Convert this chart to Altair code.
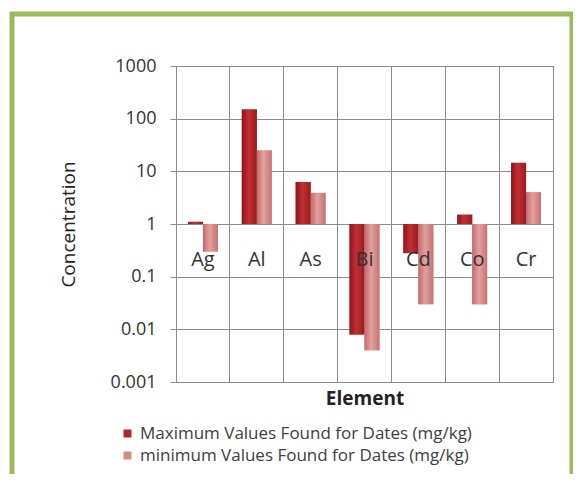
import altair as alt
import pandas as pd

elements = ["Ag", "Al", "As", "Bi", "Cd", "Co", "Cr"]
max_vals = [1.1, 150, 6.3, 0.008, 0.28, 1.5, 14.5]
min_vals = [0.3, 25, 3.9, 0.004, 0.03, 0.03, 4.0]
series = ["Maximum Values Found for Dates (mg/kg)", "minimum Values Found for Dates (mg/kg)"]
y_ticks = [0.001, 0.01, 0.1, 1, 10, 100, 1000]
colors = ["#B3262B", "#D48A8A"]

rows = []
for e, mx, mn in zip(elements, max_vals, min_vals):
    rows.append({"Element": e, "Series": series[0], "Value": mx})
    rows.append({"Element": e, "Series": series[1], "Value": mn})
df = pd.DataFrame(rows)
labels_df = pd.DataFrame({"Element": elements})

FONT = "Open Sans"
GRID = "#8c8c8c"

x_scale = alt.Scale(domain=elements, paddingInner=0, paddingOuter=0)
y_scale = alt.Scale(type="log", domain=[0.001, 1000])
off_scale = alt.Scale(domain=series, paddingInner=0, paddingOuter=0.8)

x_enc = alt.X("Element:N", scale=x_scale,
              axis=alt.Axis(labels=False, ticks=False, domain=False, grid=True,
                            bandPosition=0, gridColor=GRID, gridOpacity=1,
                            title="Element", titleFontWeight="bold",
                            titleFontSize=19, titleFont=FONT, titleColor="#222",
                            titlePadding=7))
y_enc = alt.Y("Value:Q", scale=y_scale,
              axis=alt.Axis(values=y_ticks, format="~g", grid=True, gridColor=GRID,
                            gridOpacity=1, domainColor=GRID, tickColor=GRID,
                            tickSize=6, labelFontSize=18, labelFont=FONT,
                            labelColor="#333", labelPadding=14,
                            title="Concentration", titleFontSize=19,
                            titleFont=FONT, titleFontWeight="normal",
                            titleColor="#222", titlePadding=32))

bars = alt.Chart(df).mark_bar().encode(
    x=x_enc,
    xOffset=alt.XOffset("Series:N", scale=off_scale),
    y=y_enc,
    y2=alt.datum(1),
    color=alt.Color("Series:N", scale=alt.Scale(domain=series, range=colors),
                    legend=alt.Legend(title=None, orient="none", legendX=-57,
                                      legendY=359, direction="vertical",
                                      symbolType="square", symbolSize=64,
                                      symbolStrokeWidth=0,
                                      labelFontSize=17, labelFont=FONT,
                                      labelColor="#404040", rowPadding=4,
                                      labelOffset=4,
                                      labelLimit=500, padding=0)),
)

grad_max = alt.Gradient(gradient="linear", x1=0, x2=1, y1=0, y2=0, stops=[
    alt.GradientStop(color="#8A161A", offset=0),
    alt.GradientStop(color="#C42E33", offset=0.45),
    alt.GradientStop(color="#981C20", offset=1),
])
grad_min = alt.Gradient(gradient="linear", x1=0, x2=1, y1=0, y2=0, stops=[
    alt.GradientStop(color="#BF6A6A", offset=0),
    alt.GradientStop(color="#E4A09E", offset=0.45),
    alt.GradientStop(color="#C47474", offset=1),
])

shade_max = alt.Chart(df).transform_filter(alt.datum.Series == series[0]).mark_bar(
    fill=grad_max).encode(
    x=alt.X("Element:N", scale=x_scale),
    xOffset=alt.XOffset("Series:N", scale=off_scale),
    y=alt.Y("Value:Q", scale=y_scale),
    y2=alt.datum(1),
)
shade_min = alt.Chart(df).transform_filter(alt.datum.Series == series[1]).mark_bar(
    fill=grad_min).encode(
    x=alt.X("Element:N", scale=x_scale),
    xOffset=alt.XOffset("Series:N", scale=off_scale),
    y=alt.Y("Value:Q", scale=y_scale),
    y2=alt.datum(1),
)

cat_labels = alt.Chart(labels_df).transform_calculate(base="1").mark_text(
    dy=36, fontSize=20, font=FONT, color="#333", baseline="middle", align="center"
).encode(
    x=alt.X("Element:N", scale=x_scale),
    y=alt.Y("base:Q", scale=y_scale),
    text="Element:N",
)

frame = alt.Chart(pd.DataFrame({"k": [0]})).mark_rect(
    fillOpacity=0, stroke="#9BBB59", strokeWidth=5
).encode(
    x=alt.value(-164), x2=alt.value(396), y=alt.value(-52), y2=alt.value(420)
)

chart = alt.layer(bars, shade_max, shade_min, cat_labels, frame).properties(
    width=377, height=316,
    autosize=alt.AutoSizeParams(type="none"),
    padding={"left": 168, "top": 58, "right": 20, "bottom": 92},
    background="white",
).configure_view(stroke=GRID, strokeWidth=1)

chart.save("out.html", embed_options={"renderer": "svg", "actions": False})
